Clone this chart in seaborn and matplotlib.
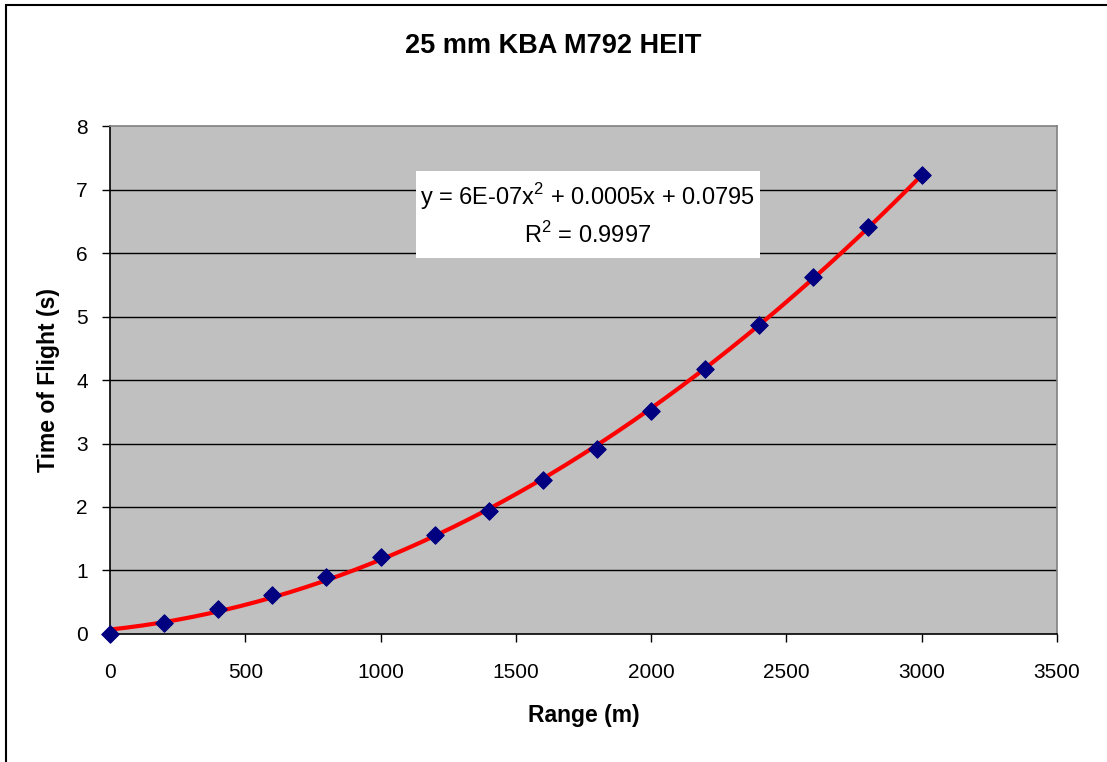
import numpy as np
import pandas as pd
import matplotlib
matplotlib.use("Agg")
import matplotlib.pyplot as plt
import seaborn as sns

# Range (m) and time of flight (s)
range_m = [0, 200, 400, 600, 800, 1000, 1200, 1400, 1600,
           1800, 2000, 2200, 2400, 2600, 2800, 3000]
tof_s = [0.0, 0.18, 0.39, 0.61, 0.90, 1.22, 1.56, 1.94, 2.43,
         2.91, 3.51, 4.18, 4.87, 5.63, 6.41, 7.23]

x_ticks = [0, 500, 1000, 1500, 2000, 2500, 3000, 3500]
y_ticks = [0, 1, 2, 3, 4, 5, 6, 7, 8]

title = "25 mm KBA M792 HEIT"
eq_text = "y = 6E-07x$^2$ + 0.0005x + 0.0795\nR$^2$ = 0.9997"

df = pd.DataFrame({"range": range_m, "tof": tof_s})

# 2nd order polynomial trendline (like Excel)
coef = np.polyfit(df["range"], df["tof"], 2)
fit_x = np.linspace(0, 3000, 200)
fit = pd.DataFrame({"range": fit_x, "tof": np.polyval(coef, fit_x)})

sns.set_style("white")
plt.rcParams["font.family"] = ["Liberation Sans", "DejaVu Sans"]
plt.rcParams["mathtext.fontset"] = "custom"
plt.rcParams["mathtext.rm"] = "Liberation Sans"
plt.rcParams["text.color"] = "black"
plt.rcParams["axes.labelcolor"] = "black"
plt.rcParams["xtick.color"] = "black"
plt.rcParams["ytick.color"] = "black"

fig = plt.figure(figsize=(11.07, 7.62), dpi=100)
ax = fig.add_axes([0.0994, 0.168, 0.8554, 0.6666])
ax.set_facecolor("#C0C0C0")

for yv in y_ticks[1:-1]:
    ax.axhline(yv, color="black", lw=1, zorder=1)

sns.lineplot(data=fit, x="range", y="tof", color="#FF0000", lw=3, ax=ax, zorder=2)
sns.scatterplot(data=df, x="range", y="tof", marker="D", s=80, color="#000080",
                edgecolor="#000080", ax=ax, zorder=3, clip_on=False)

ax.set_xlim(0, 3500)
ax.set_ylim(0, 8)
ax.set_xticks(x_ticks)
ax.set_yticks(y_ticks)
ax.tick_params(axis="both", labelsize=15, direction="out", length=6, width=1,
               color="black", labelcolor="black", left=True, bottom=True)
ax.tick_params(axis="y", pad=10)
ax.tick_params(axis="x", pad=15)
ax.set_xlabel("Range (m)", fontsize=16.5, fontweight="bold", va="center", color="black")
ax.set_ylabel("Time of Flight (s)", fontsize=16.5, fontweight="bold", va="center", color="black")
ax.xaxis.set_label_coords(0.5, -0.161)
ax.yaxis.set_label_coords(-0.0655, 0.5)
for s in ax.spines.values():
    s.set_color("#808080")
    s.set_linewidth(1.2)
ax.spines["left"].set_color("black")
ax.spines["bottom"].set_color("black")

# white box behind the trendline equation
ax.add_patch(plt.Rectangle((0.323, 0.740), 0.363, 0.171, transform=ax.transAxes,
                           facecolor="white", edgecolor="none", zorder=4))
ax.text(0.5045, 0.8255, eq_text, transform=ax.transAxes, ha="center", va="center",
        fontsize=17, linespacing=1.45, zorder=5, color="black")

fig.text(0.5, 0.939, title, ha="center", va="center", fontsize=19.5,
         fontweight="bold", color="black")

# outer chart border (only top and left visible)
fig.patches.append(plt.Rectangle((0.005, -0.05), 1.1, 1.0434, transform=fig.transFigure,
                                 fill=False, edgecolor="black", lw=1.5))

fig.savefig("out.png", dpi=100)
